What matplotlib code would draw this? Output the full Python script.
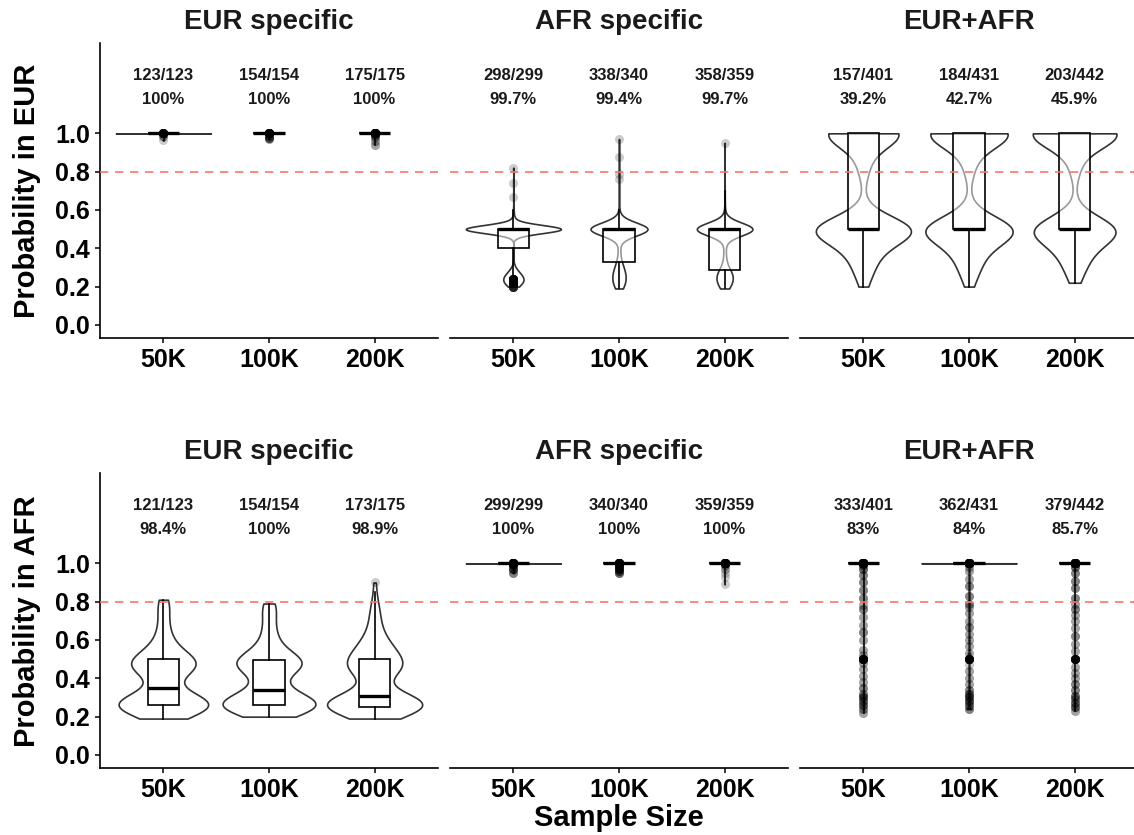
import numpy as np
import matplotlib.pyplot as plt

plt.rcParams['font.family'] = ['Liberation Sans', 'DejaVu Sans']

sizes = ['50K', '100K', '200K']
groups = ['EUR specific', 'AFR specific', 'EUR+AFR']

# top row: probability in EUR. each value with the number of variants at it
eur_in_eur_vals = [[0.965, 0.985, 0.9994, 0.9996, 1.0],
                   [0.97, 0.975, 0.985, 0.9998, 1.0],
                   [0.94, 0.96, 0.98, 0.99, 0.9998, 1.0]]
eur_in_eur_counts = [[1, 3, 40, 60, 19],
                     [2, 4, 3, 120, 25],
                     [2, 2, 3, 3, 135, 30]]

afr_in_eur_vals = [[0.20, 0.22, 0.24, 0.26, 0.28, 0.30, 0.50, 0.53, 0.56, 0.60, 0.67, 0.74, 0.82],
                   [0.19, 0.21, 0.24, 0.27, 0.30, 0.33, 0.36, 0.40, 0.45, 0.50, 0.52, 0.55, 0.60,
                    0.76, 0.79, 0.875, 0.97],
                   [0.19, 0.21, 0.23, 0.25, 0.27, 0.28, 0.29, 0.31, 0.34, 0.38, 0.42, 0.46, 0.50,
                    0.52, 0.56, 0.62, 0.70, 0.95]]
afr_in_eur_counts = [[9, 19, 20, 16, 8, 3, 215, 2, 3, 1, 1, 1, 1],
                     [8, 18, 22, 20, 15, 6, 4, 5, 3, 226, 4, 3, 2, 1, 1, 1, 1],
                     [10, 16, 20, 20, 16, 8, 4, 6, 5, 5, 4, 3, 231, 4, 3, 2, 1, 1]]

mix_in_eur_vals = [[0.20, 0.22, 0.25, 0.28, 0.32, 0.36, 0.40, 0.45, 0.50, 0.55, 0.60, 0.66,
                    0.81, 0.84, 0.90, 0.95, 0.98, 1.0],
                   [0.20, 0.22, 0.25, 0.28, 0.32, 0.36, 0.40, 0.45, 0.50, 0.55, 0.60, 0.66,
                    0.81, 0.84, 0.90, 0.95, 0.98, 1.0],
                   [0.22, 0.24, 0.27, 0.30, 0.33, 0.37, 0.41, 0.45, 0.50, 0.55, 0.60,
                    0.81, 0.84, 0.90, 0.95, 0.98, 1.0]]
mix_in_eur_counts = [[2, 3, 6, 9, 12, 14, 18, 21, 152, 4, 2, 1, 10, 8, 5, 6, 8, 120],
                     [2, 3, 7, 10, 13, 15, 19, 23, 148, 4, 2, 1, 10, 8, 6, 8, 10, 142],
                     [3, 4, 8, 10, 13, 15, 19, 23, 138, 4, 2, 10, 8, 6, 10, 12, 157]]

# bottom row: probability in AFR
eur_in_afr_vals = [[0.19, 0.21, 0.23, 0.25, 0.26, 0.27, 0.28, 0.30, 0.32, 0.35, 0.39, 0.42, 0.45,
                    0.47, 0.50, 0.52, 0.55, 0.58, 0.62, 0.66, 0.70, 0.75, 0.79, 0.80, 0.81],
                   [0.20, 0.22, 0.24, 0.25, 0.26, 0.27, 0.28, 0.30, 0.32, 0.34, 0.38, 0.41, 0.44,
                    0.47, 0.49, 0.50, 0.53, 0.56, 0.60, 0.64, 0.68, 0.72, 0.76, 0.78, 0.79],
                   [0.19, 0.21, 0.23, 0.25, 0.27, 0.29, 0.31, 0.35, 0.39, 0.42, 0.45, 0.47, 0.50,
                    0.53, 0.56, 0.60, 0.64, 0.68, 0.72, 0.76, 0.79, 0.85, 0.90]]
eur_in_afr_counts = [[3, 5, 8, 10, 6, 8, 8, 7, 4, 3, 2, 4, 10, 11, 8, 6, 4, 3, 3, 2, 2, 2, 2, 1,
                      1],
                     [4, 7, 10, 12, 6, 9, 9, 8, 5, 8, 2, 4, 10, 13, 8, 9, 6, 5, 4, 3, 3, 2, 3, 2,
                      2],
                     [5, 9, 12, 19, 16, 14, 14, 3, 3, 7, 12, 11, 9, 10, 8, 7, 4, 3, 3, 2, 2, 1,
                      1]]

afr_in_afr_vals = [[0.95, 0.97, 0.99, 0.9994, 0.9996, 1.0],
                   [0.95, 0.96, 0.97, 0.98, 0.9998, 1.0],
                   [0.89, 0.93, 0.95, 0.97, 0.99, 0.9998, 1.0]]
afr_in_afr_counts = [[3, 6, 6, 80, 160, 44],
                     [4, 4, 6, 8, 280, 38],
                     [1, 1, 1, 2, 3, 300, 51]]

mix_in_afr_vals = [[0.22, 0.24, 0.26, 0.28, 0.30, 0.32, 0.35, 0.38, 0.41, 0.45, 0.48, 0.50, 0.52,
                    0.55, 0.60, 0.64, 0.68, 0.72, 0.76, 0.78, 0.82, 0.86, 0.90, 0.94, 0.97,
                    0.99, 0.9998, 1.0],
                   [0.24, 0.26, 0.28, 0.30, 0.32, 0.34, 0.37, 0.40, 0.44, 0.47, 0.50, 0.53, 0.57,
                    0.60, 0.63, 0.67, 0.70, 0.74, 0.77, 0.79, 0.83, 0.88, 0.92, 0.96, 0.98,
                    0.9994, 0.9996, 1.0],
                   [0.23, 0.25, 0.27, 0.29, 0.31, 0.34, 0.37, 0.40, 0.43, 0.46, 0.50, 0.54, 0.58,
                    0.62, 0.66, 0.70, 0.73, 0.76, 0.79, 0.82, 0.87, 0.91, 0.95, 0.98, 0.9998, 1.0]]
mix_in_afr_counts = [[2, 3, 4, 4, 5, 3, 3, 2, 2, 2, 2, 18, 2, 2, 2, 3, 2, 2, 3, 2, 3, 3, 3, 3, 4,
                      4, 250, 63],
                     [3, 4, 5, 5, 4, 3, 2, 2, 2, 1, 18, 2, 2, 2, 2, 3, 2, 2, 2, 3, 3, 3, 2, 2, 2,
                      110, 180, 60],
                     [2, 4, 4, 3, 4, 3, 3, 2, 2, 2, 16, 2, 2, 3, 2, 2, 2, 3, 2, 3, 3, 3, 3, 4,
                      300, 63]]

totals = [[123, 154, 175], [299, 340, 359], [401, 431, 442]]
hits_eur = [[123, 154, 175], [298, 338, 358], [157, 184, 203]]
hits_afr = [[121, 154, 173], [299, 340, 359], [333, 362, 379]]

W, H = 1134, 835
fig = plt.figure(figsize=(W / 100, H / 100), dpi=100)

panel_x = [(100, 438), (450, 788), (800, 1138)]
row_y = [(43.3, 338.3), (473.2, 768.4)]


def bw_nrd0(x):
    hi = np.std(x, ddof=1)
    q1, q3 = np.percentile(x, [25, 75])
    lo = min(hi, (q3 - q1) / 1.34)
    if lo == 0:
        lo = hi or abs(x[0]) or 1.0
    return 0.9 * lo * len(x) ** -0.2


def kde(x):
    bw = bw_nrd0(x)
    grid = np.linspace(x.min(), x.max(), 512)
    z = (grid[:, None] - x[None, :]) / bw
    dens = np.exp(-0.5 * z ** 2).sum(axis=1) / (len(x) * bw * np.sqrt(2 * np.pi))
    return grid, dens


def draw_panel(ax, vals, counts, hits, tots):
    samples = [np.repeat(v, c) for v, c in zip(vals, counts)]
    dens = [kde(s) for s in samples]
    dmax = max(d.max() for _, d in dens)
    for pos, (grid, d) in enumerate(dens, start=1):
        half = 0.45 * d / dmax
        ax.fill_betweenx(grid, pos - half, pos + half, facecolor='white',
                         edgecolor='#333333', lw=1.2, zorder=1)
    ax.boxplot(samples, positions=[1, 2, 3], widths=0.3, patch_artist=True,
               showcaps=False, manage_ticks=False, zorder=2,
               boxprops=dict(facecolor=(1, 1, 1, 0.5), edgecolor='black', lw=1.2),
               medianprops=dict(color='black', lw=2.4),
               whiskerprops=dict(color='black', lw=1.2),
               flierprops=dict(marker='o', markerfacecolor='black', markeredgewidth=0,
                               alpha=0.2, markersize=6.5))
    ax.axhline(0.8, color='#F8766D', lw=1.2, ls=(0, (5, 4)), zorder=4)
    for pos, (h, t) in enumerate(zip(hits, tots), start=1):
        pct = f'{round(100 * h / t, 1):g}%'
        ax.text(pos, 1.30, f'{h}/{t}', ha='center', va='center', fontsize=12,
                fontweight='bold', color='#1a1a1a')
        ax.text(pos, 1.175, pct, ha='center', va='center', fontsize=12,
                fontweight='bold', color='#1a1a1a')


rows = [
    ([eur_in_eur_vals, afr_in_eur_vals, mix_in_eur_vals],
     [eur_in_eur_counts, afr_in_eur_counts, mix_in_eur_counts], hits_eur, 'Probability in EUR'),
    ([eur_in_afr_vals, afr_in_afr_vals, mix_in_afr_vals],
     [eur_in_afr_counts, afr_in_afr_counts, mix_in_afr_counts], hits_afr, 'Probability in AFR'),
]

for r, (vals_row, counts_row, hits_row, ylab) in enumerate(rows):
    y0, y1 = row_y[r]
    for c in range(3):
        x0, x1 = panel_x[c]
        ax = fig.add_axes([x0 / W, 1 - y1 / H, (x1 - x0) / W, (y1 - y0) / H])
        draw_panel(ax, vals_row[c], counts_row[c], hits_row[c], totals[c])
        ax.set_xlim(0.4, 3.6)
        ax.set_ylim(-0.07, 1.47)
        ax.set_xticks([1, 2, 3])
        ax.set_xticklabels(sizes, fontsize=18, fontweight='bold')
        ax.set_yticks([0, 0.2, 0.4, 0.6, 0.8, 1.0])
        ax.set_yticklabels(['0.0', '0.2', '0.4', '0.6', '0.8', '1.0'], fontsize=18,
                           fontweight='bold')
        ax.tick_params(length=3.6, width=1.1, pad=3.5, colors='black')
        for side in ['top', 'right']:
            ax.spines[side].set_visible(False)
        ax.spines['bottom'].set_linewidth(1.2)
        ax.spines['left'].set_linewidth(1.2)
        if c > 0:
            ax.spines['left'].set_visible(False)
            ax.tick_params(left=False, labelleft=False)
        ax.set_facecolor('none')
        title_y = 22 if r == 0 else 452
        fig.text((x0 + x1) / 2 / W, 1 - title_y / H, groups[c], ha='center', va='center',
                 fontsize=20, fontweight='bold', color='#1a1a1a')
    fig.text(27 / W, 1 - (y0 + y1) / 2 / H, ylab, rotation=90, ha='center', va='center',
             fontsize=21, fontweight='bold', color='black')

fig.text(619 / W, 1 - 818 / H, 'Sample Size', ha='center', va='center', fontsize=21,
         fontweight='bold', color='black')

fig.savefig('out.png', dpi=100)
